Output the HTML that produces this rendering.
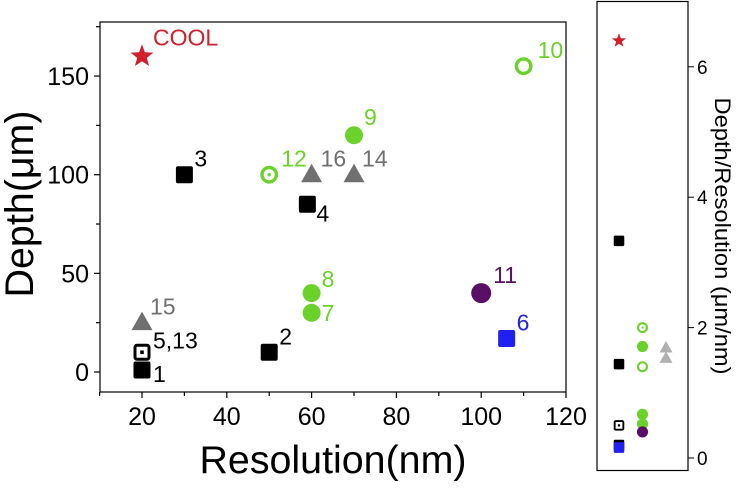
<!DOCTYPE html>
<html><head><meta charset="utf-8"><style>
body{margin:0;background:#fff;}
svg{display:block;font-family:"Liberation Sans",sans-serif;}
</style></head><body>
<svg id="chart" width="736" height="489" viewBox="0 0 736 489"></svg>
<script>
const mainX=[20,20,30,59,50,106,60,60,70,110,100,50,20,60,70,20];
const mainY=[1,10,100,85,10,17,30,40,120,155,40,100,25,100,100,160];
const mainLabels=["1","5,13","3","4","2","6","7","8","9","10","11","12","15","16","14","COOL"];
const mainKinds=["sq","sqd","sq","sq","sq","bsq","gc","gc","gc","gr","pc","grd","tri","tri","tri","star"];
const sideCol=[0,0,0,0,0,0,1,1,1,1,1,1,2,2];
const sideY=[6.4,3.33,1.44,0.5,0.2,0.16,2.0,1.71,1.4,0.67,0.52,0.4,1.69,1.53];
const sideKinds=["star","sq","sq","sqd","sq","bsq","grd","gc","gr","gc","gc","pc","ltri","ltri"];
const xTicks=[20,40,60,80,100,120];
const yTicks=[0,50,100,150];
const rTicks=[0,2,4,6];

const svg=document.getElementById('chart');
const NS='http://www.w3.org/2000/svg';
function mk(t,a,p){const e=document.createElementNS(NS,t);for(const k in a)e.setAttribute(k,a[k]);(p||svg).appendChild(e);return e;}
const X=v=>99.6+(v-10)*4.24, Y=v=>372-v*1.973;
const RX=c=>619+c*23.5, RY=v=>458-v*65.2;

function marker(kind,cx,cy,s){
  const g=mk('g',{});
  
  
  const h=8.5*s;
  if(kind=='sq'||kind=='bsq'){mk('rect',{x:cx-h,y:cy-h,width:2*h,height:2*h,rx:2*s,fill:kind=='sq'?'#000':'#2020f0'},g);}
  else if(kind=='sqd'){mk('rect',{x:cx-h+1.5*s,y:cy-h+1.5*s,width:2*h-3*s,height:2*h-3*s,rx:2*s,fill:'#fff',stroke:'#000','stroke-width':3*s},g);mk('rect',{x:cx-1.8*s,y:cy-1.8*s,width:3.6*s,height:3.6*s,fill:'#000'},g);}
  else if(kind=='gc'){mk('circle',{cx,cy,r:9*s,fill:'#6ad22a'},g);}
  else if(kind=='pc'){mk('circle',{cx,cy,r:(s<1?9*s:10),fill:'#5a0f66'},g);}
  else if(kind=='gr'){mk('circle',{cx,cy,r:7.2*s,fill:'none',stroke:'#6ad22a','stroke-width':3.4*s},g);}
  else if(kind=='grd'){mk('circle',{cx,cy,r:7.2*s,fill:'none',stroke:'#6ad22a','stroke-width':3.4*s},g);mk('circle',{cx,cy,r:1.7*s,fill:'#6ad22a'},g);}
  else if(kind=='tri'||kind=='ltri'){mk('polygon',{points:`${cx},${cy-11*s} ${cx+10.5*s},${cy+7.5*s} ${cx-10.5*s},${cy+7.5*s}`,fill:kind=='tri'?'#707070':'#b0b0b0'},g);}
  else if(kind=='star'){let p=[];const R=12*s,r=5*s;for(let i=0;i<10;i++){const a=-Math.PI/2+i*Math.PI/5,rr=i%2?r:R;p.push((cx+rr*Math.cos(a)).toFixed(1)+','+(cy+rr*Math.sin(a)).toFixed(1));}mk('polygon',{points:p.join(' '),fill:'#d0202a'},g);}
  return g;
}
const fr=mk('rect',{x:100,y:22,width:466,height:370,fill:'none',stroke:'#000','stroke-width':1.2});

for(let v=10;v<=120;v+=10){mk('line',{x1:X(v),x2:X(v),y1:392,y2:v%20==0?398:396,stroke:'#000','stroke-width':1.2});}
xTicks.forEach(v=>{const t=mk('text',{x:X(v),y:425,'font-size':25,'text-anchor':'middle'});t.textContent=v;

});
for(let v=-25;v<=175;v+=25){if(Y(v)<22||Y(v)>392)continue;mk('line',{x1:100,x2:v%50==0?94:96,y1:Y(v),y2:Y(v),stroke:'#000','stroke-width':1.2});}
yTicks.forEach(v=>{const t=mk('text',{x:89,y:Y(v)+9,'font-size':25,'text-anchor':'end'});t.textContent=v;

});
let t=mk('text',{x:333,y:473,'font-size':39,'text-anchor':'middle',textLength:267,lengthAdjust:'spacingAndGlyphs'});t.textContent='Resolution(nm)';


t=mk('text',{transform:'translate(33,204) rotate(-90)','font-size':40,'text-anchor':'middle',textLength:187,lengthAdjust:'spacingAndGlyphs'});t.textContent='Depth(μm)';


const colors={sq:'#000',sqd:'#000',bsq:'#2020f0',gc:'#6ad22a',gr:'#6ad22a',grd:'#6ad22a',pc:'#5a0f66',tri:'#707070',star:'#d0202a'};
const offs={"1":[11,12],"5,13":[11,-4],"3":[10,-8],"4":[9,17],"2":[10,-8],"6":[10,-8],"7":[10,8],"8":[10,-6],"9":[10,-10],"10":[14,-8],"11":[12,-10],"12":[12,-8],"15":[8,-8],"16":[9,-8],"14":[8,-8],"COOL":[11,-11]};
mainX.forEach((xv,i)=>{
  const cx=X(xv),cy=Y(mainY[i]);
  const m=marker(mainKinds[i],cx,cy,1);
  
  const o=offs[mainLabels[i]];
  const l=mk('text',{x:cx+o[0],y:cy+o[1],'font-size':23,fill:colors[mainKinds[i]]});
  l.textContent=mainLabels[i];
  
  
});
const sf=mk('rect',{x:597,y:1.5,width:91,height:469,fill:'none',stroke:'#000','stroke-width':1.2});

rTicks.forEach(v=>{mk('line',{x1:688,x2:694,y1:RY(v),y2:RY(v),stroke:'#000','stroke-width':1});
const l=mk('text',{x:697,y:RY(v)+7,'font-size':19});l.textContent=v;

});
t=mk('text',{transform:'translate(715,236) rotate(90)','font-size':22,'text-anchor':'middle',textLength:277,lengthAdjust:'spacingAndGlyphs'});t.textContent='Depth/Resolution (μm/nm)';


sideY.forEach((v,i)=>{const m=marker(sideKinds[i],RX(sideCol[i]),RY(v),0.62);
});
</script>
</body></html>
